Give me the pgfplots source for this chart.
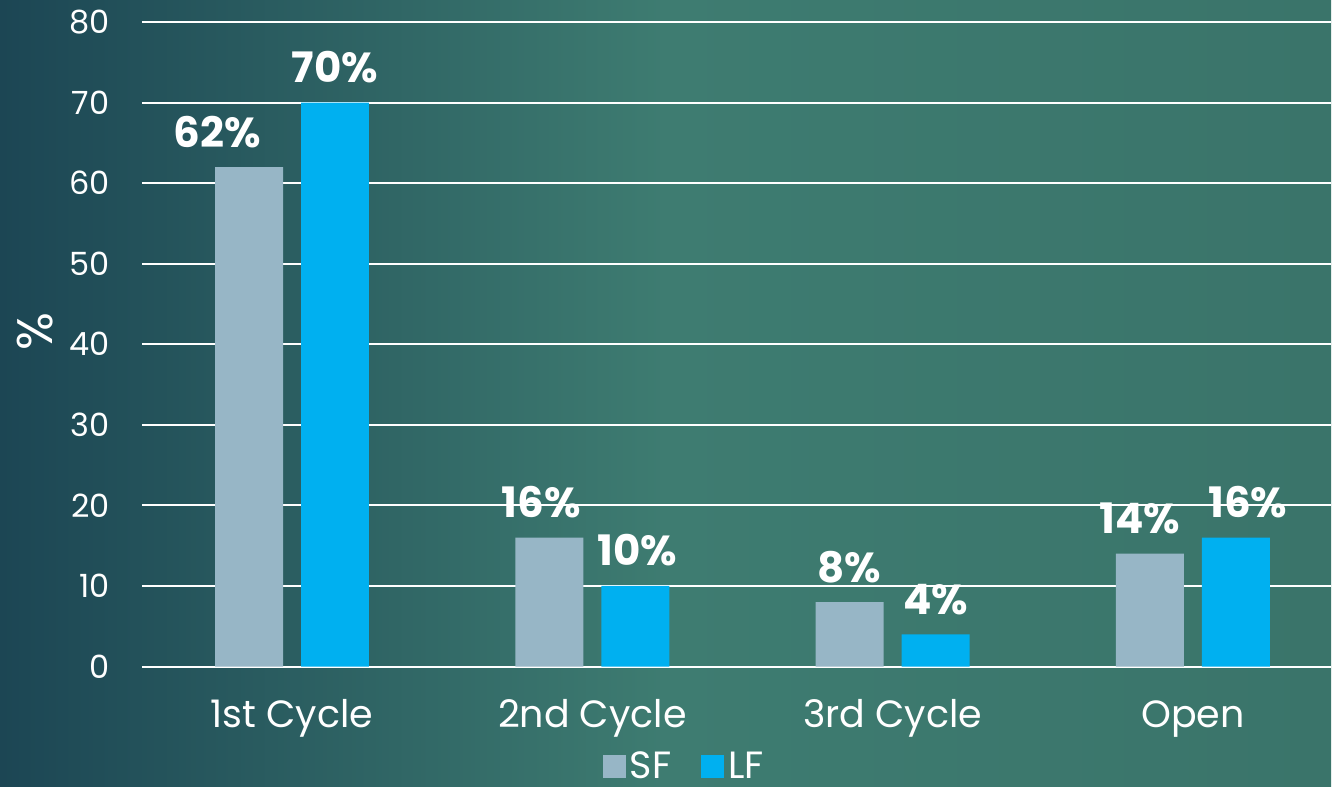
\documentclass[border=0pt]{standalone}
\usepackage{fontspec}
\setmainfont{Poppins}
\usepackage{pgfplots}
\usepackage{pgfplotstable}
\pgfplotsset{compat=1.18}
\definecolor{sfcol}{HTML}{97B6C6}
\definecolor{lfcol}{HTML}{00B0F0}
\definecolor{bgL}{HTML}{1C4654}
\definecolor{bgM}{HTML}{3E7C71}
\definecolor{bgR}{HTML}{3A746A}

% x = category, y = value, dx = label shift (pt)
\pgfplotstableread{
x y dx
0 62 -16
1 16 -4
2 8 0
3 14 -5
}\sfdata
\pgfplotstableread{
x y dx
0 70 0
1 10 1
2 4 0
3 16 6
}\lfdata

\begin{document}
\begin{tikzpicture}[x=1pt,y=1pt]
\shade[left color=bgL, right color=bgR, middle color=bgM] (0,0) rectangle (666,393.5);
\begin{axis}[
    at={(71pt,60pt)}, anchor=south west,
    scale only axis,
    width=595pt, height=322.5pt,
    ybar=9pt, bar width=34pt,
    xmin=-0.5, xmax=3.46,
    ymin=0, ymax=80,
    ytick={0,10,...,80},
    xtick={0,1,2,3},
    xticklabels={1st Cycle,2nd Cycle,3rd Cycle,Open},
    /pgf/number format/assume math mode=true,
    major tick length=0pt,
    axis line style={draw=none},
    ymajorgrids,
    grid style={white, line width=1pt},
    clip=false,
    tick label style={text=white},
    yticklabel style={font=\fontsize{16}{16}\selectfont, anchor=east, inner sep=0pt, xshift=-16pt},
    xticklabel style={font=\fontsize{19}{19}\selectfont, anchor=base, inner sep=0pt, yshift=-30.5pt},
    ylabel={\%},
    ylabel style={at={(axis description cs:-0.09,0.52)}, anchor=center, rotate=0, text=white, font=\fontsize{25}{25}\selectfont},
    nodes near coords={\pgfmathprintnumber{\pgfplotspointmeta}\%},
    visualization depends on={\thisrow{dx} \as \dx},
    nodes near coords style={font=\fontsize{21}{21}\selectfont\bfseries, text=white, anchor=base, inner sep=0pt, yshift=10pt, xshift=\dx pt},
    legend columns=2,
    legend style={at={(axis description cs:0.457,-0.155)}, anchor=center, draw=none, fill=none,
        text=white, font=\fontsize{19}{19}\selectfont,
        /tikz/every even column/.append style={column sep=13pt}},
    legend image code/.code={\fill[#1] (0pt,-5.75pt) rectangle (11.5pt,5.75pt);},
]
\addplot[fill=sfcol, draw=none] table[x=x, y=y] {\sfdata};
\addplot[fill=lfcol, draw=none] table[x=x, y=y] {\lfdata};
\legend{SF,LF}
\end{axis}
\end{tikzpicture}
\end{document}
